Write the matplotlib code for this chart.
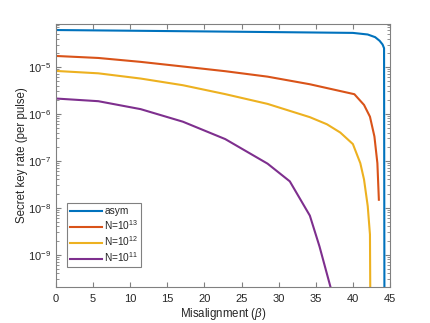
import numpy as np
import matplotlib.pyplot as plt
from matplotlib.ticker import FixedLocator, LogLocator, NullFormatter

# --- data ---
x_asym = [0, 10, 20, 30, 40, 42, 43, 43.6, 44.0, 44.2, 44.25]
y_asym = [6.1e-5, 5.9e-5, 5.7e-5, 5.5e-5, 5.3e-5, 4.9e-5, 4.3e-5, 3.6e-5, 3.0e-5, 2.5e-5, 1e-10]

x_n13 = [0, 5.7, 11.4, 17.1, 22.8, 28.5, 34.2, 40.2, 41.5, 42.3, 42.9, 43.3, 43.5]
y_n13 = [1.71e-5, 1.55e-5, 1.28e-5, 1.02e-5, 8.1e-6, 6.2e-6, 4.27e-6, 2.62e-6, 1.55e-6, 8.7e-7, 3.3e-7, 8.9e-8, 1.48e-8]

x_n12 = [0, 5.7, 11.4, 17.1, 22.8, 28.5, 34.2, 36.5, 38.3, 40.0, 41.0, 41.5, 42.0, 42.3, 42.35]
y_n12 = [8.2e-6, 7.3e-6, 5.65e-6, 4.07e-6, 2.63e-6, 1.63e-6, 8.5e-7, 6.0e-7, 4.0e-7, 2.27e-7, 8.9e-8, 4e-8, 1.08e-8, 2.7e-9, 1e-10]

x_n11 = [0, 5.7, 11.4, 17.1, 22.8, 28.5, 31.5, 34.2, 35.5, 37.0, 37.3]
y_n11 = [2.12e-6, 1.86e-6, 1.26e-6, 6.8e-7, 2.9e-7, 8.7e-8, 3.65e-8, 6.8e-9, 1.5e-9, 2e-10, 1e-10]

labels = ['asym', 'N=10$^{13}$', 'N=10$^{12}$', 'N=10$^{11}$']
colors = ['#0072BD', '#D95319', '#EDB120', '#7E2F8E']
y_major = [1e-9, 1e-8, 1e-7, 1e-6, 1e-5]

plt.rcParams['font.family'] = 'Liberation Sans'
plt.rcParams['mathtext.fontset'] = 'custom'
plt.rcParams['mathtext.rm'] = 'Liberation Sans'
plt.rcParams['mathtext.it'] = 'Liberation Sans:italic'

fig = plt.figure(figsize=(4.31, 3.23), dpi=100)
ax = fig.add_axes([56/431, 1 - 287/323, (390-56)/431, (287-24)/323])

for xs, ys, lab, c in zip([x_asym, x_n13, x_n12, x_n11], [y_asym, y_n13, y_n12, y_n11], labels, colors):
    ax.plot(xs, ys, color=c, linewidth=1.5, label=lab)

ax.set_yscale('log')
ax.set_xlim(0, 45)
ax.set_ylim(2.05e-10, 8.2e-5)
ax.set_xticks(np.arange(0, 46, 5))
ax.yaxis.set_major_locator(FixedLocator(y_major))
ax.yaxis.set_minor_locator(LogLocator(base=10, subs=np.arange(2, 10), numticks=20))
ax.yaxis.set_minor_formatter(NullFormatter())

grey = '#262626'
for s in ax.spines.values():
    s.set_color('#808080')
    s.set_linewidth(0.8)
ax.tick_params(which='both', direction='in', top=True, right=True, colors='#808080',
               labelcolor=grey, labelsize=8)
ax.tick_params(which='major', length=3.5)
ax.tick_params(which='minor', length=2)
ax.tick_params(axis='x', pad=5)

ax.set_xlabel(r'Misalignment ($\beta$)', fontsize=8.3, color=grey, labelpad=1.5)
ax.set_ylabel('Secret key rate (per pulse)', fontsize=8.3, color=grey, labelpad=0)

leg = ax.legend(loc='lower left', bbox_to_anchor=(0.033, 0.076), fontsize=7.3, fancybox=False,
                framealpha=1, edgecolor='#808080', handlelength=3.2, borderaxespad=0,
                labelspacing=0.22, handletextpad=0.2, borderpad=0.28)
leg.get_frame().set_linewidth(0.8)
for t in leg.get_texts():
    t.set_color(grey)

fig.savefig('out.png', dpi=100)
